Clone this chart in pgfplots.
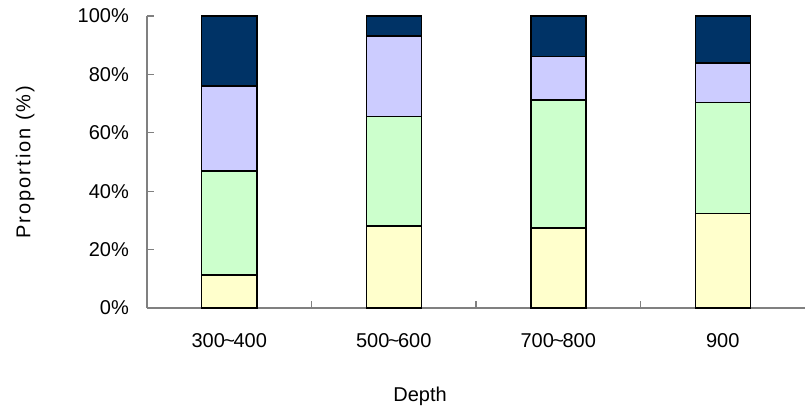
\documentclass[border=0pt]{standalone}
\usepackage{pgfplots}
\pgfplotsset{compat=1.18}
\usepackage{fontspec}
\setmainfont{Liberation Sans}
\newfontfamily\labfont[LetterSpace=10]{Liberation Sans}
\definecolor{cyel}{HTML}{FFFFCC}
\definecolor{cgrn}{HTML}{CCFFCC}
\definecolor{clav}{HTML}{CCCCFF}
\definecolor{cnav}{HTML}{003366}
\definecolor{axgray}{HTML}{808080}
\begin{document}
\begin{tikzpicture}
\path[use as bounding box] (-147pt,-101pt) rectangle (658pt,308pt);
\begin{axis}[
  at={(0pt,0pt)}, anchor=south west,
  scale only axis,
  width=658pt, height=292pt,
  xmin=-0.5, xmax=3.5,
  ymin=0, ymax=100,
  ybar stacked,
  bar width=55pt,
  axis x line*=bottom,
  axis y line*=left,
  axis line style={draw=axgray, line width=1.3pt},
  tick align=inside,
  major tick length=6.5pt,
  tick style={draw=axgray, line width=1.2pt},
  xtick={0.5,1.5,2.5},
  xticklabels={},
  extra x ticks={0,1,2,3},
  extra x tick labels={300{\kern-1.5pt}\textasciitilde{\kern-1.5pt}400,500{\kern-1.5pt}\textasciitilde{\kern-1.5pt}600,700{\kern-1.5pt}\textasciitilde{\kern-1.5pt}800,900},
  extra x tick style={major tick length=0pt, xticklabel style={anchor=center, yshift=-33pt}},
  ytick={0,20,40,60,80,100},
  yticklabels={0\%,20\%,40\%,60\%,80\%,100\%},
  yticklabel style={anchor=east, inner sep=0pt, xshift=-18pt},
  tick label style={font=\fontsize{20}{24}\selectfont, text=black},
  xlabel={Depth},
  ylabel={\labfont Proportion (\%)},
  label style={font=\fontsize{20}{24}\selectfont},
  xlabel style={at={(axis description cs:0.415,-0.301)}, anchor=center},
  ylabel style={at={(axis description cs:-0.185,0.5)}, anchor=center, rotate=0},
  clip=false,
]
\addplot[fill=cyel, draw=black, line width=1.5pt] coordinates {(0,11.3) (1,28.1) (2,27.4) (3,32.4)};
\addplot[fill=cgrn, draw=black, line width=1.5pt] coordinates {(0,35.6) (1,37.4) (2,43.8) (3,38.0)};
\addplot[fill=clav, draw=black, line width=1.5pt] coordinates {(0,29.2) (1,27.7) (2,14.9) (3,13.5)};
\addplot[fill=cnav, draw=black, line width=1.5pt] coordinates {(0,23.9) (1,6.8) (2,13.9) (3,16.1)};
\end{axis}
\end{tikzpicture}
\end{document}
